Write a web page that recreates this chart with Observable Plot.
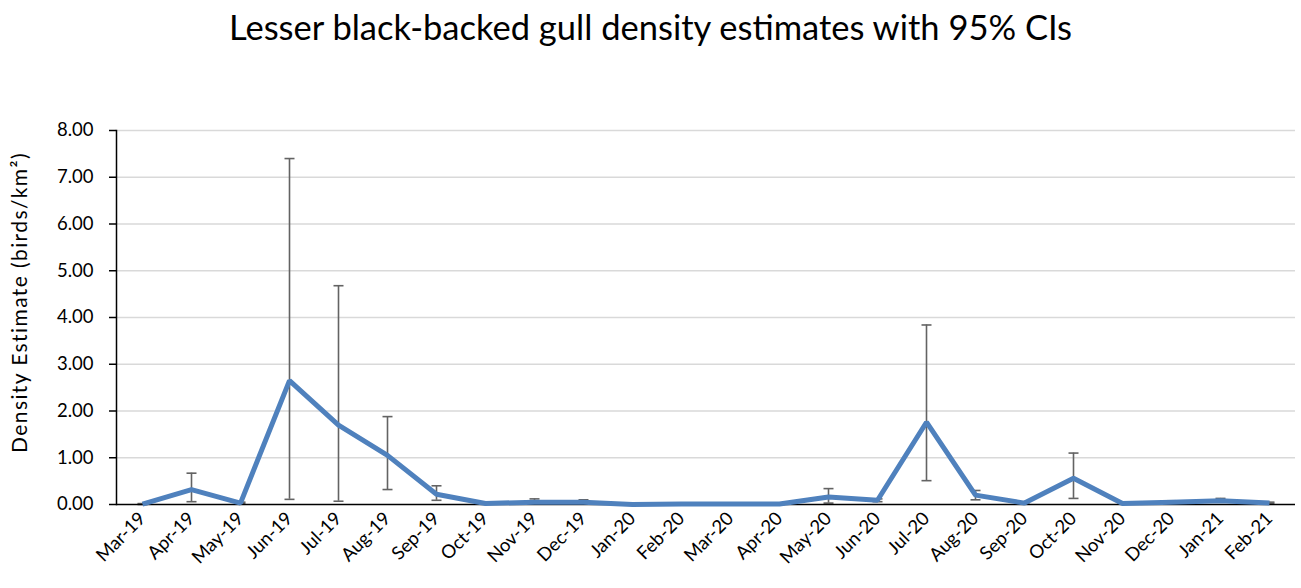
<!DOCTYPE html>
<html>
<head>
<meta charset="utf-8">
<script src="https://cdn.jsdelivr.net/npm/d3@7"></script>
<script src="https://cdn.jsdelivr.net/npm/@observablehq/plot@0.6"></script>
<style>
  html, body { margin: 0; padding: 0; background: #fff; }
  #title { height: 70px; box-sizing: border-box; padding-top: 8px; text-align: center;
           font-family: Lato, "Open Sans", sans-serif; font-size: 34.5px; color: #000; line-height: 38px; }
  #chart svg { display: block; }
</style>
</head>
<body>
<div id="title">Lesser black-backed gull density estimates with 95% CIs</div>
<div id="chart"></div>
<script>
const months = ["Mar-19","Apr-19","May-19","Jun-19","Jul-19","Aug-19","Sep-19","Oct-19","Nov-19","Dec-19","Jan-20","Feb-20","Mar-20","Apr-20","May-20","Jun-20","Jul-20","Aug-20","Sep-20","Oct-20","Nov-20","Dec-20","Jan-21","Feb-21"];
const density = [0.01,0.32,0.03,2.65,1.70,1.05,0.22,0.02,0.05,0.05,0.00,0.01,0.01,0.01,0.16,0.09,1.76,0.20,0.03,0.56,0.02,0.05,0.08,0.03];
const ciLower = [0.00,0.06,0.02,0.11,0.07,0.32,0.09,0.01,0.03,0.03,0.00,0.00,0.00,0.00,0.03,0.06,0.51,0.10,0.02,0.13,0.01,0.03,0.05,0.02];
const ciUpper = [0.02,0.67,0.05,7.40,4.68,1.88,0.40,0.03,0.12,0.10,0.01,0.02,0.02,0.02,0.34,0.12,3.84,0.30,0.05,1.10,0.04,0.08,0.13,0.05];
const yTicks = [0,1,2,3,4,5,6,7,8];
const yTitle = "Density Estimate (birds/km²)";

const data = months.map((m, i) => ({month: m, d: density[i], lo: ciLower[i], hi: ciUpper[i]}));

// horizontal cap symbol for error bars
const capSymbol = {
  draw(context, size) {
    const r = Math.sqrt(size / Math.PI);
    context.moveTo(-r, 0);
    context.lineTo(r, 0);
  }
};

const chart = Plot.plot({
  width: 1301,
  height: 518,
  marginTop: 60,
  marginBottom: 84,
  marginLeft: 116,
  marginRight: 6,
  style: {fontFamily: "Lato, 'Open Sans', sans-serif", fontSize: "18px", color: "#000", background: "#fff"},
  x: {type: "point", domain: months, padding: 0.5, label: null},
  y: {domain: [0, 8], ticks: yTicks, label: null},
  marks: [
    Plot.gridY(yTicks.filter(t => t > 0), {stroke: "#d9d9d9", strokeOpacity: 1, strokeWidth: 1.5}),
    Plot.ruleX(data, {x: "month", y1: "lo", y2: "hi", stroke: "#636363", strokeWidth: 1.6}),
    Plot.dot(data, {x: "month", y: "hi", symbol: capSymbol, r: 5, stroke: "#636363", fill: "none", strokeWidth: 1.6}),
    Plot.dot(data, {x: "month", y: "lo", symbol: capSymbol, r: 5, stroke: "#636363", fill: "none", strokeWidth: 1.6}),
    Plot.ruleY([0], {stroke: "#000", strokeWidth: 1.5}),
    Plot.frame({anchor: "left", stroke: "#000", strokeWidth: 1.5}),
    Plot.line(data, {x: "month", y: "d", stroke: "#4f81bd", strokeWidth: 5, strokeLinejoin: "miter", strokeLinecap: "butt"}),
    Plot.axisY({ticks: yTicks, tickFormat: d => d.toFixed(2), tickSize: 7, tickPadding: 16, stroke: "#000", strokeWidth: 1.5,
                fontSize: 18.5, label: null}),
    Plot.text([yTitle], {frameAnchor: "left", dx: -96, dy: -15, rotate: -90, fontSize: 21, textAnchor: "middle", text: d => d}),
    Plot.axisX({tickRotate: -45, tickSize: 0, tickPadding: 11, fontSize: 18.5, label: null})
  ]
});
// widen the axis title to match the reference's wider typeface
d3.select(chart).selectAll("text").filter(function() { return this.textContent === yTitle; })
  .attr("letter-spacing", "1.4px");
document.getElementById("chart").appendChild(chart);
</script>
</body>
</html>
